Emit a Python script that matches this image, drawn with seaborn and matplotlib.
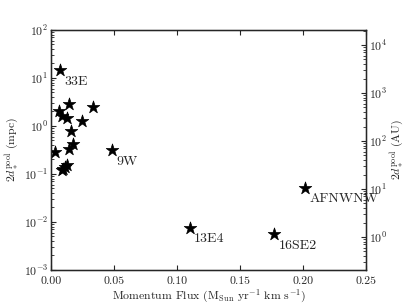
import matplotlib
matplotlib.use("Agg")
import matplotlib.pyplot as plt
import seaborn as sns
import pandas as pd
import numpy as np

# Data
momentum_flux = [0.0071, 0.0063, 0.0145, 0.0330, 0.0087, 0.0124, 0.0249, 0.0156,
                 0.0177, 0.0140, 0.0032, 0.0487, 0.0125, 0.0115, 0.0098, 0.0085,
                 0.1100, 0.1770, 0.2016]
dcool_mpc = [14.7, 2.05, 2.83, 2.52, 1.61, 1.45, 1.27, 0.80,
             0.416, 0.33, 0.283, 0.316, 0.155, 0.14, 0.128, 0.118,
             0.0076, 0.00554, 0.0519]
names = ["33E", "", "", "", "", "", "", "",
         "", "", "", "9W", "", "", "", "",
         "13E4", "16SE2", "AFNWNW"]
xticks = [0.00, 0.05, 0.10, 0.15, 0.20, 0.25]
MPC_TO_AU = 206.265

df = pd.DataFrame({"flux": momentum_flux, "d": dcool_mpc, "name": names})

sns.set_style("ticks")
plt.rcParams["font.family"] = ["cmr10", "DejaVu Serif"]
plt.rcParams["mathtext.fontset"] = "cm"
plt.rcParams["axes.formatter.use_mathtext"] = True
plt.rcParams["axes.unicode_minus"] = False
plt.rcParams["xtick.direction"] = "in"
plt.rcParams["ytick.direction"] = "in"

fig = plt.figure(figsize=(4.07, 3.05), dpi=100)
ax = fig.add_axes([0.125, 0.115, 0.775, 0.787])

sns.scatterplot(data=df, x="flux", y="d", marker="*", s=90, color="black",
                edgecolor="black", linewidth=0.5, ax=ax, legend=False)
ax.set_yscale("log")
ax.set_xlim(0, 0.25)
ax.set_ylim(1e-3, 1e2)
ax.set_xticks(xticks)
ax.set_xticklabels([f"{v:.2f}" for v in xticks])
ax.tick_params(axis="both", labelsize=8.5, top=True, which="both", pad=2)
ax.tick_params(axis="x", pad=5)
ax.tick_params(axis="y", right=False, which="both")
for s in ax.spines.values():
    s.set_linewidth(1.0)
    s.set_color("black")

for _, r in df.iterrows():
    if r["name"]:
        ax.annotate(r["name"], (r["flux"], r["d"]), xytext=(3, -4),
                    textcoords="offset points", ha="left", va="top", fontsize=10)

ax.set_xlabel(r"Momentum Flux (M$_{\rm Sun}$ yr$^{-1}$ km s$^{-1}$)", fontsize=8.5, labelpad=1)
ax.set_ylabel(r"$2d_*^{\rm pool}$ (mpc)", fontsize=8.5, labelpad=1)

ax2 = ax.twinx()
ax2.set_yscale("log")
ax2.set_ylim(1e-3 * MPC_TO_AU, 1e2 * MPC_TO_AU)
ax2.tick_params(axis="y", labelsize=8.5, which="both", direction="in", pad=2)
ax2.set_ylabel(r"$2d_*^{\rm pool}$ (AU)", fontsize=8.5, labelpad=1)

fig.savefig("out.png", dpi=100)
